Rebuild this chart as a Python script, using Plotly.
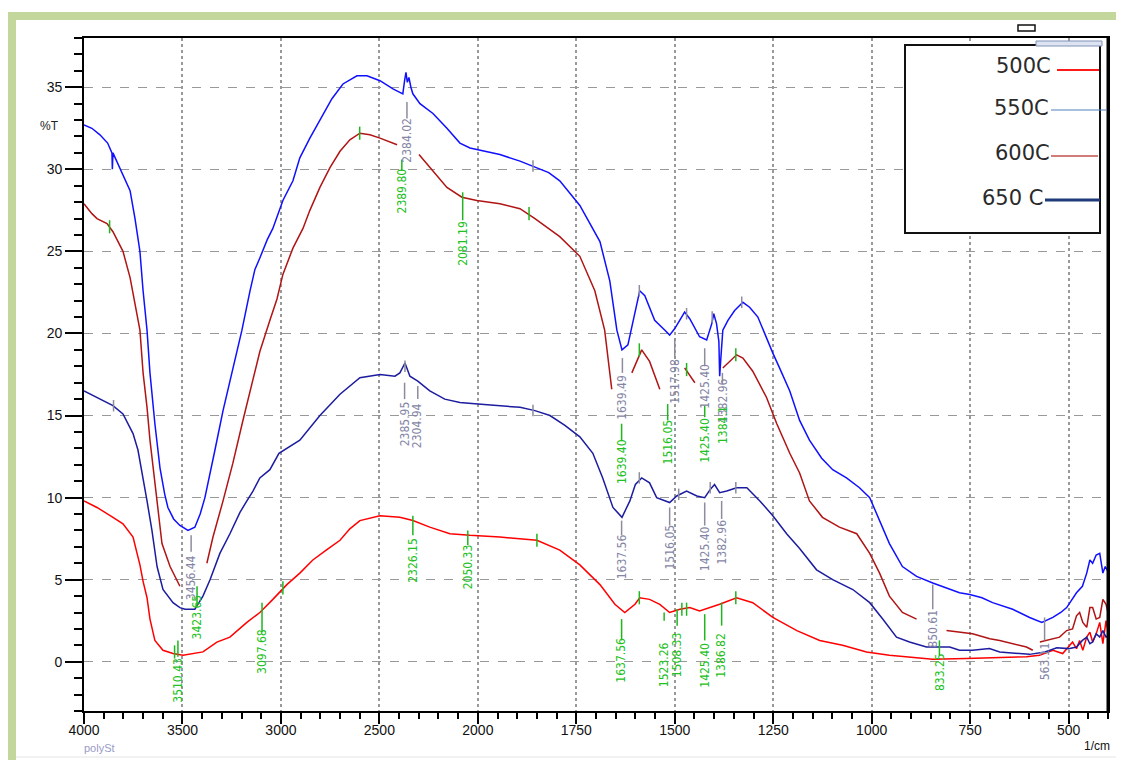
import plotly.graph_objects as go

# ---------------- data (wavenumber 1/cm , %T) ----------------
wn_550 = [4000, 3960, 3919, 3880, 3858, 3856, 3853, 3802, 3766, 3741, 3716, 3700, 3680, 3665, 3640, 3614, 3590,
          3574, 3545, 3513, 3472, 3437, 3410, 3386, 3360, 3335, 3294, 3244, 3198, 3157, 3132, 3107, 3070, 3041,
          3010, 2990, 2939, 2904, 2853, 2792, 2741, 2685, 2614, 2563, 2497, 2431, 2381, 2372, 2365, 2358, 2350,
          2340, 2330, 2294, 2228, 2157, 2091, 2040, 2005, 1944, 1893, 1860, 1820, 1792, 1741, 1690, 1665, 1647,
          1634, 1619, 1601, 1589, 1576, 1551, 1525, 1513, 1500, 1487, 1475, 1462, 1437, 1419, 1406, 1401, 1394,
          1388, 1386, 1383, 1378, 1365, 1348, 1327, 1310, 1289, 1267, 1251, 1234, 1208, 1183, 1158, 1127, 1099,
          1064, 1031, 1005, 980, 955, 922, 886, 845, 810, 777, 751, 720, 693, 642, 599, 568, 540, 520, 505, 480,
          465, 454, 446, 439, 430, 421, 413, 407, 400]
t_550 = [32.7, 32.5, 32.1, 31.6, 31.0, 30.0, 31.0, 29.7, 28.7, 27.0, 25.0, 22.6, 20.2, 17.6, 14.5, 11.8, 10.2,
         9.4, 8.7, 8.3, 8.0, 8.2, 9.0, 10.0, 11.4, 12.9, 15.3, 17.9, 20.2, 22.6, 23.9, 24.6, 25.7, 26.4,
         27.4, 28.1, 29.3, 30.7, 31.9, 33.2, 34.3, 35.2, 35.7, 35.7, 35.4, 34.9, 34.6, 35.4, 35.9, 35.3, 35.6,
         35.0, 34.6, 34.0, 33.4, 32.5, 31.6, 31.3, 31.2, 30.9, 30.5, 30.2, 29.8, 29.3, 27.8, 25.6, 23.2, 20.2,
         19.0, 19.3, 21.4, 22.6, 22.3, 20.8, 20.2, 19.9, 20.3, 20.8, 21.3, 20.9, 19.8, 19.6, 20.6, 21.2, 20.6,
         19.5, 17.4, 18.5, 20.2, 20.8, 21.4, 21.9, 21.6, 21.0, 19.7, 18.8, 17.9, 16.5, 14.7, 13.5, 12.4, 11.7,
         11.2, 10.6, 10.0, 8.6, 7.2, 5.8, 5.2, 4.8, 4.5, 4.2, 4.1, 3.9, 3.6, 3.2, 2.7, 2.4, 2.7, 3.0, 3.3, 4.2,
         4.6, 5.4, 6.2, 6.0, 6.5, 6.6, 5.4, 5.8, 5.5]

wn_600 = [4000, 3960, 3934, 3883, 3853, 3802, 3766, 3741, 3716, 3700, 3680, 3665, 3640, 3604, 3563, 3513, 3450,
          3376, 3345, 3294, 3244, 3193, 3157, 3107, 3056, 3020, 2990, 2939, 2888, 2853, 2802, 2751, 2700, 2650,
          2599, 2548, 2497, 2431, 2410, 2350, 2299, 2228, 2157, 2081, 2005, 1944, 1893, 1855, 1792, 1741, 1703,
          1678, 1660, 1635, 1609, 1584, 1564, 1538, 1510, 1475, 1449, 1410, 1378, 1343, 1327, 1302, 1267, 1241,
          1208, 1183, 1158, 1125, 1082, 1038, 1005, 980, 955, 922, 886, 850, 810, 777, 744, 700, 675, 607, 591,
          582, 573, 540, 523, 505, 490, 480, 472, 464, 454, 446, 439, 430, 421, 413, 405, 400]
t_600 = [27.9, 27.3, 27.0, 26.7, 26.2, 25.0, 23.4, 21.8, 20.2, 17.6, 15.5, 13.5, 10.9, 7.2, 5.8, 4.6, None,
         6.0, 7.6, 9.8, 12.1, 14.7, 16.5, 18.9, 20.8, 22.1, 23.6, 25.2, 26.4, 27.5, 28.9, 30.1, 31.1, 31.8,
         32.2, 32.1, 31.9, 31.6, 31.5, None, 30.9, 29.9, 28.9, 28.3, 28.1, 27.9, 27.6, 27.0, 25.9, 24.7, 22.6,
         20.2, 16.6, None, 17.6, 19.0, 18.3, 16.6, None, 17.9, 17.0, None, 17.9, 18.7, 18.5, 17.7, 16.1, 14.5,
         12.7, 11.5, 9.8, 8.8, 8.2, 7.8, 6.6, 5.4, 4.0, 3.0, 2.6, None, 1.9, 1.8, 1.7, 1.4, 1.3, 0.9, 0.7,
         None, 1.2, 1.4, 1.5, 1.9, 2.0, 2.8, 3.0, 2.4, 2.1, 3.3, 3.3, 2.6, 2.7, 3.8, 3.5, 3.0]

wn_650 = [4000, 3934, 3853, 3802, 3751, 3726, 3700, 3680, 3655, 3629, 3599, 3548, 3513, 3487, 3437, 3396, 3360,
          3310, 3259, 3208, 3173, 3142, 3107, 3056, 3010, 2904, 2802, 2700, 2599, 2497, 2421, 2396, 2370, 2345,
          2305, 2244, 2168, 2091, 2000, 1944, 1893, 1855, 1817, 1779, 1741, 1708, 1683, 1657, 1634, 1614, 1600,
          1584, 1564, 1546, 1513, 1495, 1470, 1444, 1424, 1410, 1399, 1386, 1368, 1343, 1317, 1284, 1251, 1216,
          1183, 1140, 1099, 1048, 1005, 972, 937, 904, 861, 828, 802, 777, 744, 701, 675, 599, 560, 530, 500,
          480, 465, 454, 446, 439, 430, 421, 413, 405, 400]
t_650 = [16.5, 16.1, 15.6, 15.1, 13.9, 12.9, 11.2, 9.8, 8.0, 5.8, 4.4, 3.6, 3.3, 3.2, 3.2, 4.0, 5.0,
         6.6, 7.8, 9.1, 9.8, 10.4, 11.2, 11.7, 12.7, 13.5, 15.0, 16.3, 17.3, 17.5, 17.4, 17.6, 18.2, 17.4,
         17.1, 16.5, 16.0, 15.8, 15.7, 15.6, 15.5, 15.3, 15.0, 14.4, 13.7, 12.7, 11.2, 9.4, 8.8, 9.8, 10.8,
         11.2, 10.9, 10.0, 9.7, 10.1, 10.4, 10.1, 10.0, 10.5, 10.8, 10.3, 10.4, 10.6, 10.6, 9.8, 8.9, 7.8,
         6.9, 5.6, 5.0, 4.4, 3.6, 2.6, 1.5, 1.2, 0.9, 0.9, 0.9, 0.7, 0.7, 0.8, 0.6, 0.45, 0.6, 0.85, 0.8,
         0.9, 1.3, 1.5, 1.1, 1.2, 1.7, 1.5, 1.9, 1.5, 1.6]

wn_500 = [4000, 3934, 3853, 3802, 3751, 3716, 3700, 3680, 3665, 3640, 3599, 3548, 3497, 3447, 3396, 3325, 3259,
          3173, 3107, 3041, 2970, 2904, 2838, 2770, 2700, 2650, 2599, 2497, 2396, 2330, 2244, 2142, 2041, 1944,
          1850, 1792, 1741, 1690, 1652, 1627, 1601, 1589, 1564, 1538, 1513, 1487, 1462, 1437, 1411, 1386, 1343,
          1302, 1251, 1190, 1132, 1074, 1013, 955, 886, 845, 760, 675, 607, 574, 540, 515, 500, 490, 480, 472,
          464, 454, 446, 439, 430, 421, 413, 405, 400]
t_500 = [9.8, 9.4, 8.8, 8.4, 7.6, 5.9, 4.9, 3.9, 2.6, 1.3, 0.7, 0.5, 0.4, 0.5, 0.6, 1.2, 1.5,
         2.4, 3.0, 3.8, 4.7, 5.4, 6.2, 6.8, 7.4, 8.1, 8.6, 8.9, 8.8, 8.6, 8.2, 7.8, 7.7, 7.6,
         7.4, 6.8, 5.9, 4.7, 3.5, 3.0, 3.5, 3.9, 3.8, 3.5, 3.0, 3.2, 3.3, 3.1, 3.3, 3.5, 3.9,
         3.6, 2.7, 1.9, 1.3, 1.0, 0.6, 0.4, 0.25, 0.15, 0.2, 0.25, 0.3, 0.4, 0.7, 0.5, 0.9, 1.2, 0.8, 1.3,
         0.7, 1.5, 1.8, 1.2, 1.7, 2.4, 1.1, 2.5, 1.8]

series_names = ["500C", "550C", "600C", "650 C"]
x_tick_values = [4000, 3500, 3000, 2500, 2000, 1750, 1500, 1250, 1000, 750, 500]
y_tick_values = [0, 5, 10, 15, 20, 25, 30, 35]

# peak labels: text, wavenumber
gray_texts = ["3456.44", "2384.02", "2385.95", "2304.94", "1639.49", "1517.98", "1425.40", "1382.96",
              "1637.56", "1516.05", "1425.40", "1382.96", "850.61", "563.11"]
gray_wn = [3456, 2360, 2372, 2305, 1633, 1500, 1424, 1379, 1635, 1513, 1424, 1381, 845, 561]
green_texts = ["2389.80", "2081.19", "1639.40", "1516.05", "1425.40", "1384.1", "3097.68", "2326.15",
               "2050.33", "1637.56", "1523.26", "1508.33", "1425.40", "1386.82", "833.25", "3423.65", "3510.43"]
green_wn = [2386, 2077, 1635, 1518, 1424, 1376, 3096, 2330, 2051, 1635, 1527, 1494, 1424, 1381, 828, 3426, 3523]

# small peak tick marks on the curves
green_mark_wn = [3540, 2990, 1850, 1590, 1482, 1470, 1345, 3870, 2600, 1870, 1590, 1470, 1345]
green_mark_t = [0.6, 4.5, 7.4, 3.9, 3.2, 3.2, 3.9, 26.5, 32.2, 27.3, 19.0, 17.8, 18.7]
gray_mark_wn = [1860, 1590, 1470, 1405, 1330, 3850, 1860, 1590, 1490, 1410, 1345, 2370]
gray_mark_t = [30.2, 22.6, 21.2, 21.0, 21.9, 15.6, 15.3, 11.2, 10.2, 10.6, 10.6, 18.0]

# ---------------- layout positions (in %T units) ----------------
gray_line = [(7.7, 6.7), (34.1, 33.1), (17.0, 16.0), (16.8, 16.0), (18.5, 17.6), (19.7, 18.5), (19.1, 18.0),
             (17.6, 17.0), (8.6, 7.7), (9.4, 8.3), (9.7, 8.3), (9.8, 8.7), (4.7, 3.2), (2.7, 1.3)]
gray_text_y = [5.1, 31.8, 14.5, 14.4, 16.1, 17.1, 16.8, 15.9, 6.4, 7.0, 6.9, 7.3, 2.0, 0.0]
green_line = [(30.6, 29.9), (28.6, 26.9), (14.5, 13.5), (15.7, 14.7), (15.6, 14.9), None, (3.6, 1.8),
              (8.9, 7.7), (8.0, 7.1), (2.6, 1.3), (3.0, 2.5), (3.2, 2.2), (2.9, 1.3), (3.6, 2.2), (1.3, 0.4),
              (4.6, 3.4), (1.3, 0.3)]
green_text_y = [28.7, 25.5, 12.2, 13.4, 13.5, 14.4, 0.6, 6.2, 5.8, 0.1, -0.2, 0.4, -0.2, 0.4, -0.6, 2.7, -1.1]


def tx(w):
    """Piecewise FTIR wavenumber scale: half scale above 2000 1/cm."""
    return w if w <= 2000 else 2000 + (w - 2000) / 2.0


# the page shows the figure at an 8 px body offset
OFF = 8
W, H = 1124 - OFF, 760 - OFF
L, R, T, B = 84, 1108, 38, 711   # plot area in page pixels


def pxx(px):
    return (px - L) / (R - L)


def pxy(py):
    return (B - py) / (B - T)


fig = go.Figure()
colors = ["#ff0000", "#1010ff", "#b01414", "#1c1ca0"]
for name, wn, tv, col in zip(series_names, [wn_500, wn_550, wn_600, wn_650],
                              [t_500, t_550, t_600, t_650], colors):
    fig.add_trace(go.Scatter(x=[tx(w) for w in wn], y=tv, mode="lines", name=name,
                             line=dict(color=col, width=1.5), connectgaps=False,
                             showlegend=False, hoverinfo="skip"))

shapes = []
annotations = []
label_font = "Liberation Sans Narrow, DejaVu Sans Condensed, Liberation Sans, Arial"
for txt, w, ln, ty in zip(gray_texts, gray_wn, gray_line, gray_text_y):
    if ln:
        shapes.append(dict(type="line", xref="x", yref="y", x0=tx(w), x1=tx(w), y0=ln[0], y1=ln[1],
                           line=dict(color="#8c8c9c", width=1.5)))
    annotations.append(dict(x=tx(w), y=ty, xref="x", yref="y", text=txt, showarrow=False, textangle=-90,
                            font=dict(family=label_font, size=12, color="#8585a5"),
                            xanchor="center", yanchor="middle"))
for txt, w, ln, ty in zip(green_texts, green_wn, green_line, green_text_y):
    if ln:
        shapes.append(dict(type="line", xref="x", yref="y", x0=tx(w), x1=tx(w), y0=ln[0], y1=ln[1],
                           line=dict(color="#1fb51f", width=1.5)))
    annotations.append(dict(x=tx(w), y=ty, xref="x", yref="y", text=txt, showarrow=False, textangle=-90,
                            font=dict(family=label_font, size=12, color="#22c022"),
                            xanchor="center", yanchor="middle"))
for w, tv in zip(green_mark_wn, green_mark_t):
    shapes.append(dict(type="line", xref="x", yref="y", x0=tx(w), x1=tx(w), y0=tv - 0.4, y1=tv + 0.4,
                       line=dict(color="#1fb51f", width=1.5)))
for w, tv in zip(gray_mark_wn, gray_mark_t):
    shapes.append(dict(type="line", xref="x", yref="y", x0=tx(w), x1=tx(w), y0=tv - 0.35, y1=tv + 0.35,
                       line=dict(color="#8c8c9c", width=1.5)))

# thicker right border of the plot frame
shapes.append(dict(type="line", xref="paper", yref="paper", x0=1, x1=1, y0=0, y1=1,
                   line=dict(color="black", width=3), layer="above"))

# outer green frame
frame_col = "#c3d69b"
shapes.append(dict(type="rect", xref="paper", yref="paper", x0=pxx(8), x1=pxx(1124), y0=pxy(20), y1=pxy(12),
                   fillcolor=frame_col, line=dict(width=0), layer="above"))
shapes.append(dict(type="rect", xref="paper", yref="paper", x0=pxx(8), x1=pxx(16), y0=pxy(760), y1=pxy(12),
                   fillcolor=frame_col, line=dict(width=0), layer="above"))
shapes.append(dict(type="line", xref="paper", yref="paper", x0=pxx(16), x1=pxx(1124), y0=pxy(757), y1=pxy(757),
                   line=dict(color="#e4e4e4", width=1)))

# legend box
shapes.append(dict(type="rect", xref="paper", yref="paper", x0=pxx(905), x1=pxx(1100), y0=pxy(233), y1=pxy(45),
                   fillcolor="white", line=dict(color="#111111", width=2), layer="above"))
shapes.append(dict(type="rect", xref="paper", yref="paper", x0=pxx(1018), x1=pxx(1035), y0=pxy(31), y1=pxy(25),
                   fillcolor="white", line=dict(color="#111111", width=1.5), layer="above"))
shapes.append(dict(type="rect", xref="paper", yref="paper", x0=pxx(1036), x1=pxx(1102), y0=pxy(46), y1=pxy(41),
                   fillcolor="#dde3f0", line=dict(color="#8090b8", width=1), layer="above"))
leg_lines = [(1057, 1099, 70, "#ff1a1a", 2), (1051, 1107, 110, "#4f81bd", 1.2),
             (1051, 1098, 156, "#c0504d", 1.5), (1045, 1100, 200, "#1f3a78", 3)]
for x0, x1, yy, col, wd in leg_lines:
    shapes.append(dict(type="line", xref="paper", yref="paper", x0=pxx(x0), x1=pxx(x1), y0=pxy(yy), y1=pxy(yy),
                       line=dict(color=col, width=wd), layer="above"))
leg_text_pos = [(1053, 66), (1051, 108), (1052, 153), (1045, 198)]
for name, (xr, yy) in zip(series_names, leg_text_pos):
    annotations.append(dict(x=pxx(xr), y=pxy(yy), xref="paper", yref="paper", text=name, showarrow=False,
                            xanchor="right", yanchor="middle",
                            font=dict(family="DejaVu Sans, Verdana", size=21, color="#2a2a2a")))

annotations.append(dict(x=pxx(61), y=pxy(126), xref="paper", yref="paper", text="%T", showarrow=False,
                        xanchor="right", yanchor="middle", font=dict(family="Liberation Sans, Arial", size=12,
                                                                     color="#222222")))
annotations.append(dict(x=pxx(82), y=pxy(748), xref="paper", yref="paper", text="polySt", showarrow=False,
                        xanchor="left", yanchor="middle", font=dict(family="Liberation Sans, Arial", size=11,
                                                                    color="#9a9ac8")))
annotations.append(dict(x=pxx(1112), y=pxy(746), xref="paper", yref="paper", text="1/cm", showarrow=False,
                        xanchor="right", yanchor="middle", font=dict(family="Liberation Sans, Arial", size=12,
                                                                     color="#111111")))

tick_font = dict(family="Liberation Sans, Arial", size=14, color="#111111")
fig.update_layout(
    width=W, height=H, margin=dict(l=L - OFF, r=W - (R - OFF), t=T - OFF, b=H - (B - OFF), pad=0),
    paper_bgcolor="white", plot_bgcolor="white", showlegend=False,
    shapes=shapes, annotations=annotations,
    xaxis=dict(range=[tx(4000), tx(400)], tickmode="array", tickvals=[tx(v) for v in x_tick_values],
               ticktext=[str(v) for v in x_tick_values], ticks="outside", ticklen=11, tickwidth=1.5,
               tickcolor="black", showline=True, linecolor="black", linewidth=1.8, mirror=True,
               showgrid=True, gridcolor="#999999", griddash="dot", gridwidth=1.5, zeroline=False,
               automargin=False, tickfont=tick_font, ticklabelstandoff=-6,
               minor=dict(tickmode="linear", tick0=400, dtick=50, ticks="outside", ticklen=6,
                          tickcolor="black", tickwidth=1.5, showgrid=False)),
    yaxis=dict(range=[-3, 38], tickmode="array", tickvals=y_tick_values,
               ticktext=[str(v) for v in y_tick_values], ticks="outside", ticklen=17, tickwidth=1.5,
               tickcolor="black", showline=True, linecolor="black", linewidth=1.8, mirror=True,
               showgrid=True, gridcolor="#999999", griddash="dash", gridwidth=1.2, zeroline=False,
               automargin=False, tickfont=tick_font,
               minor=dict(tickmode="linear", tick0=0, dtick=1, ticks="outside", ticklen=8,
                          tickcolor="black", tickwidth=1.5, showgrid=False)),
)

fig.write_html("out.html")
